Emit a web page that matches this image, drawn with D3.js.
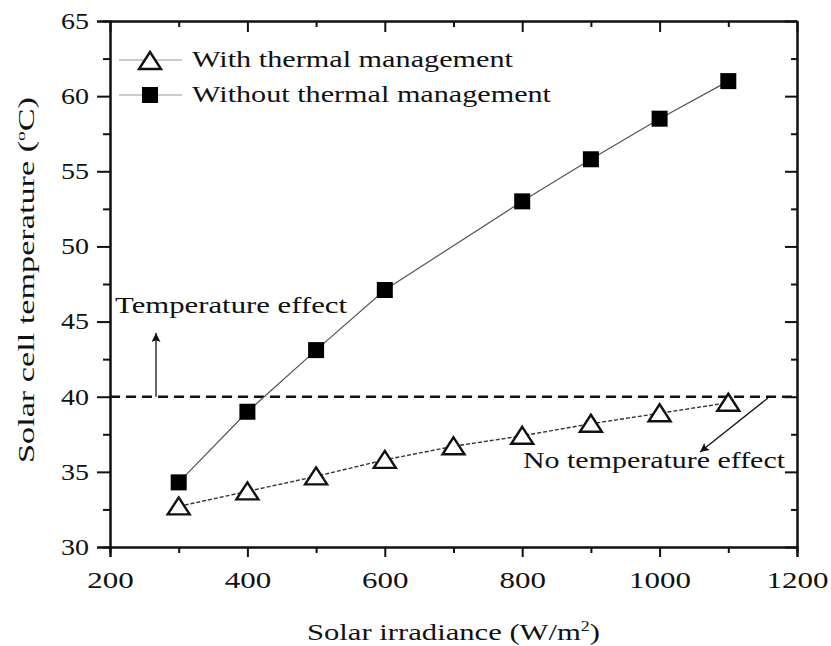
<!DOCTYPE html>
<html><head><meta charset="utf-8">
<script src="https://cdn.jsdelivr.net/npm/d3@7"></script>
<style>
html,body{margin:0;padding:0;background:#fff;}
text{font-family:"Liberation Serif","Times New Roman",serif;fill:#111;}
</style></head>
<body><svg id="chart" width="831" height="646"></svg>
<script>
// ---- data ----
const xTickValues = [200, 400, 600, 800, 1000, 1200];
const xMinorTicks = [300, 500, 700, 900, 1100];
const yTickValues = [30, 35, 40, 45, 50, 55, 60, 65];
const yMinorTicks = [32.5, 37.5, 42.5, 47.5, 52.5, 57.5, 62.5];

const irradianceWith = [300, 400, 500, 600, 700, 800, 900, 1000, 1100];
const tempWith = [32.7, 33.7, 34.7, 35.8, 36.7, 37.4, 38.2, 38.9, 39.6];

const irradianceWithout = [300, 400, 500, 600, 800, 900, 1000, 1100];
const tempWithout = [34.3, 39.0, 43.1, 47.1, 53.0, 55.8, 58.5, 61.0];

const thresholdTemp = 40;
const seriesNames = ["With thermal management", "Without thermal management"];
const xTitle = "Solar irradiance (W/m";
const yTitle = "Solar cell temperature (";
const annotAbove = "Temperature effect";
const annotBelow = "No temperature effect";

// ---- chart ----
const svg = d3.select("#chart");
const x = d3.scaleLinear().domain([200, 1200]).range([110, 797]);
const y = d3.scaleLinear().domain([30, 65]).range([547, 21]);

function styleAxis(g, labels, lenPerChar) {
  g.selectAll("path.domain").attr("stroke", "#111").attr("stroke-width", 2);
  g.selectAll(".tick line").attr("stroke", "#111").attr("stroke-width", 2);
  if (labels) {
    g.selectAll(".tick text")
      .style("font-family", '"Liberation Serif", serif')
      .style("font-size", "23px")
      .attr("fill", "#111")
      .each(function() {
        const t = d3.select(this);
        t.attr("textLength", t.text().length * lenPerChar).attr("lengthAdjust", "spacingAndGlyphs");
      });
  } else {
    g.selectAll(".tick text").remove();
  }
}

// bottom
const gb = svg.append("g").attr("transform", `translate(0,${y(30)})`);
gb.call(d3.axisBottom(x).tickValues(xTickValues).tickSize(10).tickPadding(15).tickFormat(d3.format("d")));
styleAxis(gb, true, 15.5);
const gbm = svg.append("g").attr("transform", `translate(0,${y(30)})`);
gbm.call(d3.axisBottom(x).tickValues(xMinorTicks).tickSize(6));
styleAxis(gbm, false);
// top
const gt = svg.append("g").attr("transform", `translate(0,${y(65)})`);
gt.call(d3.axisTop(x).tickValues(xTickValues).tickSize(-11).tickSizeOuter(0));
styleAxis(gt, false);
const gtm = svg.append("g").attr("transform", `translate(0,${y(65)})`);
gtm.call(d3.axisTop(x).tickValues(xMinorTicks).tickSize(-6).tickSizeOuter(0));
styleAxis(gtm, false);
// left
const gl = svg.append("g").attr("transform", `translate(${x(200)},0)`);
gl.call(d3.axisLeft(y).tickValues(yTickValues).tickSize(13).tickPadding(8).tickFormat(d3.format("d")));
styleAxis(gl, true, 14);
const glm = svg.append("g").attr("transform", `translate(${x(200)},0)`);
glm.call(d3.axisLeft(y).tickValues(yMinorTicks).tickSize(7));
styleAxis(glm, false);
// right
const gr = svg.append("g").attr("transform", `translate(${x(1200)},0)`);
gr.call(d3.axisRight(y).tickValues(yTickValues).tickSize(-12).tickSizeOuter(0));
styleAxis(gr, false);
const grm = svg.append("g").attr("transform", `translate(${x(1200)},0)`);
grm.call(d3.axisRight(y).tickValues(yMinorTicks).tickSize(-6).tickSizeOuter(0));
styleAxis(grm, false);

// threshold dashed line
svg.append("line")
  .attr("x1", x(200)).attr("x2", x(1200))
  .attr("y1", y(thresholdTemp)).attr("y2", y(thresholdTemp))
  .attr("stroke", "#111").attr("stroke-width", 2.5).attr("stroke-dasharray", "10,6");

// lines
const dataWith = irradianceWith.map((v, i) => [v, tempWith[i]]);
const dataWithout = irradianceWithout.map((v, i) => [v, tempWithout[i]]);
const line = d3.line().x(d => x(d[0])).y(d => y(d[1]));

svg.append("path").datum(dataWithout).attr("d", line)
  .attr("fill", "none").attr("stroke", "#555").attr("stroke-width", 1.2);
svg.append("path").datum(dataWith).attr("d", line)
  .attr("fill", "none").attr("stroke", "#333").attr("stroke-width", 1.4).attr("stroke-dasharray", "4,2");

// markers
const triPath = "M0,-9 L11,8 L-11,8 Z";
function drawTri(g, cx, cy) {
  g.append("path").attr("d", triPath).attr("transform", `translate(${cx},${cy})`)
    .attr("fill", "#fff").attr("stroke", "#111").attr("stroke-width", 2.4).attr("stroke-linejoin", "miter");
}
function drawSq(g, cx, cy) {
  g.append("rect").attr("x", cx - 8).attr("y", cy - 8).attr("width", 16).attr("height", 16).attr("fill", "#000");
}
const gm = svg.append("g");
dataWithout.forEach(d => drawSq(gm, x(d[0]), y(d[1])));
dataWith.forEach(d => drawTri(gm, x(d[0]), y(d[1])));

// legend
const leg = svg.append("g");
[[60, 0], [95, 1]].forEach(([ly, i]) => {
  leg.append("line").attr("x1", 119).attr("x2", 182).attr("y1", ly).attr("y2", ly)
    .attr("stroke", "#999").attr("stroke-width", 1.2);
  if (i === 0) drawTri(leg, 150, ly + 1); else drawSq(leg, 150, ly);
});
leg.append("text").attr("x", 192).attr("y", 67).style("font-size", "24px")
  .attr("textLength", 321).attr("lengthAdjust", "spacingAndGlyphs").text(seriesNames[0]);
leg.append("text").attr("x", 192).attr("y", 102).style("font-size", "24px")
  .attr("textLength", 359).attr("lengthAdjust", "spacingAndGlyphs").text(seriesNames[1]);

// axis titles
const xt = svg.append("text").attr("x", 307).attr("y", 640).style("font-size", "24px")
  .attr("textLength", 293).attr("lengthAdjust", "spacingAndGlyphs");
xt.append("tspan").text(xTitle);
xt.append("tspan").attr("dy", -9).style("font-size", "14px").text("2");
xt.append("tspan").attr("dy", 9).text(")");

const yt = svg.append("text").attr("transform", "translate(34,463) rotate(-90)")
  .style("font-size", "23px")
  .attr("textLength", 366).attr("lengthAdjust", "spacingAndGlyphs");
yt.append("tspan").text(yTitle);
yt.append("tspan").attr("dy", -9).style("font-size", "13px").text("o");
yt.append("tspan").attr("dy", 9).text("C)");

// annotations
const defs = svg.append("defs");
defs.append("marker").attr("id", "ah").attr("viewBox", "0 0 10 10")
  .attr("refX", 10).attr("refY", 5).attr("markerWidth", 15).attr("markerHeight", 9)
  .attr("markerUnits", "userSpaceOnUse").attr("orient", "auto")
  .append("path").attr("d", "M0,0 L10,5 L0,10 L2,5 Z").attr("fill", "#111");

svg.append("line").attr("x1", 156).attr("y1", y(thresholdTemp)).attr("x2", 156).attr("y2", 333)
  .attr("stroke", "#111").attr("stroke-width", 1.3).attr("marker-end", "url(#ah)");
svg.append("text").attr("x", 115).attr("y", 313).style("font-size", "24px")
  .attr("textLength", 232).attr("lengthAdjust", "spacingAndGlyphs").text(annotAbove);

svg.append("line").attr("x1", 768).attr("y1", 398).attr("x2", 700).attr("y2", 452)
  .attr("stroke", "#111").attr("stroke-width", 1.3).attr("marker-end", "url(#ah)");
svg.append("text").attr("x", 523).attr("y", 468).style("font-size", "24px")
  .attr("textLength", 262).attr("lengthAdjust", "spacingAndGlyphs").text(annotBelow);
</script></body></html>
